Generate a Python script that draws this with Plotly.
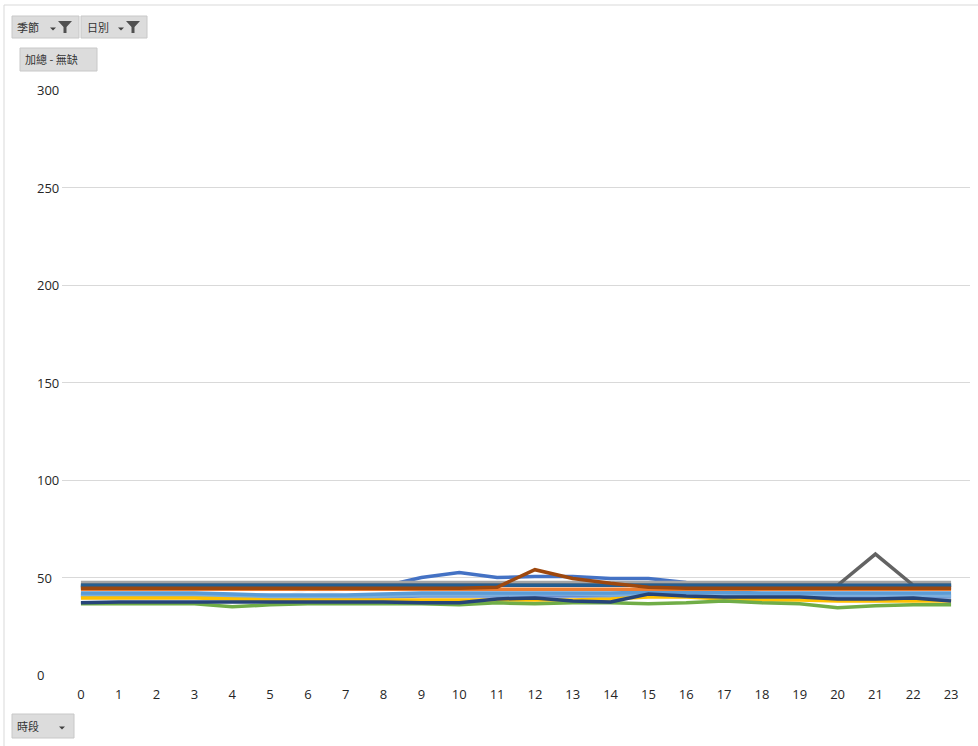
import plotly.graph_objects as go

# Hourly averages per group (時段 0-23)
hours = list(range(24))

s_gray = [47.5] * 24
s_dgray = [46, 46, 46, 46, 46, 46, 46, 46, 46, 46, 46, 46, 46, 46, 46, 46, 46, 46, 46, 46, 46, 62, 46, 46]
s_teal = [46] * 24
s_dgreen = [45.5, 45.5, 45.5, 45.5, 45.5, 45.5, 46, 45, 45, 46, 46.5, 46.5, 47, 47, 47, 47, 46.5, 46.5, 46.5, 46, 46, 46, 46, 46]
s_dorange = [44.5, 44.5, 44.5, 44.5, 44.5, 44.5, 44.5, 44.5, 44.5, 44.5, 44.5, 45, 54, 49.5, 47, 45, 44.5, 44.5, 44.5, 44.5, 44.5, 44.5, 44.5, 44.5]
s_orange = [44] * 24
s_blue = [45, 45, 45, 45, 45, 45, 45, 45, 45.5, 50, 52.5, 50, 50.5, 50.5, 49.5, 49.5, 47.5, 46.5, 46, 45.5, 45, 45, 45, 45]
s_white = [38.5, 38.5, 38, 38, 37.5, 37.5, 44, 41, 40, 40, 39, 38, 38, 41, 40, 39.5, 40, 43, 43.5, 43.5, 38, 37.5, 37.5, 38]
s_lblue = [42, 42, 42, 42, 41.5, 41, 41, 41, 41.5, 42, 42, 42, 42, 42, 42, 42.5, 42.5, 42.5, 42, 42, 42, 42, 42, 42]
s_lblue2 = [41, 41, 41, 41, 40.5, 40, 40, 40, 40.5, 41, 41, 41, 41.5, 41.5, 41, 41, 41, 41, 41, 41, 41, 41, 41, 40.5]
s_mblue = [40.5, 40.5, 40.5, 40.5, 40, 39.5, 39.5, 39.5, 40, 40.5, 40.5, 40.5, 40.5, 40.5, 40.5, 40.5, 41, 41, 41, 40.5, 40, 40, 40, 40]
s_gold = [39.5, 39.5, 39.5, 39.5, 39, 38.5, 38.5, 38.5, 38.5, 38.5, 38.5, 38.5, 38.5, 38.5, 39, 40, 40, 39, 38.5, 38.5, 38, 38, 38, 38]
s_dblue = [37, 37.5, 37.5, 37.5, 37.5, 37.5, 37.5, 37.5, 37.5, 37, 37, 39, 39.5, 38, 37.5, 41.5, 40.5, 40, 40, 40, 39, 39, 39.5, 38]
s_green = [36.5, 36.5, 36.5, 36.5, 35, 36, 36.5, 36.5, 36.5, 36.5, 36, 37, 36.5, 37, 37, 36.5, 37, 38, 37, 36.5, 34.5, 35.5, 36, 36]

# drawing order: first entries sit underneath
series = [
    ("s15", s_white, "#F4F7FB"),
    ("s1", s_mblue, "#698ED0"),
    ("s2", s_lblue2, "#7CAFDD"),
    ("s3", s_lblue, "#5B9BD5"),
    ("s4", s_gold, "#FFC000"),
    ("s5", s_green, "#70AD47"),
    ("s6", s_dblue, "#264478"),
    ("s7", s_orange, "#ED7D31"),
    ("s13", s_blue, "#4472C4"),
    ("s8", s_dgreen, "#43682B"),
    ("s9", s_gray, "#A5A5A5"),
    ("s10", s_dgray, "#636363"),
    ("s11", s_teal, "#255E91"),
    ("s12", s_dorange, "#9E480E"),
]

y_ticks = [0, 50, 100, 150, 200, 250, 300]

fig = go.Figure()
for name, vals, color in series:
    fig.add_trace(go.Scatter(
        x=hours, y=vals, mode="lines", name=name,
        line=dict(color=color, width=3.5), hoverinfo="skip",
    ))

W, H = 978, 746
L, R, T, B = 62, 8, 90, 71
PW, PH = W - L - R, H - T - B


def px(x):
    return (x - L) / PW


def py(y):
    return (H - B - y) / PH


shapes = []
annotations = []

# outer chart frame
shapes.append(dict(type="line", xref="paper", yref="paper", x0=px(4), x1=px(978), y0=py(5), y1=py(5),
                   line=dict(color="#D9D9D9", width=1)))
shapes.append(dict(type="line", xref="paper", yref="paper", x0=px(4), x1=px(4), y0=py(5), y1=py(746),
                   line=dict(color="#D9D9D9", width=1)))


def button(x0, y0, x1, y1, label, lx, dropdown=None, funnel=None):
    shapes.append(dict(type="rect", xref="paper", yref="paper", x0=px(x0), x1=px(x1), y0=py(y1), y1=py(y0),
                       fillcolor="#DCDCDC", line=dict(color="#C8C8C8", width=1), layer="above"))
    annotations.append(dict(xref="paper", yref="paper", x=px(lx), y=py((y0 + y1) / 2), text=label,
                            showarrow=False, xanchor="left", yanchor="middle",
                            font=dict(family="Noto Sans CJK TC", size=11, color="#333333")))
    if dropdown is not None:
        dx = dropdown
        cy = (y0 + y1) / 2 + 2
        shapes.append(dict(type="path", xref="paper", yref="paper",
                           path=f"M {px(dx - 3)},{py(cy - 1.5)} L {px(dx + 3)},{py(cy - 1.5)} L {px(dx)},{py(cy + 1.5)} Z",
                           fillcolor="#404040", line=dict(width=0), layer="above"))
    if funnel is not None:
        fx = funnel
        ty = y0 + 5
        shapes.append(dict(type="path", xref="paper", yref="paper",
                           path=(f"M {px(fx - 7)},{py(ty)} L {px(fx + 7)},{py(ty)} L {px(fx + 1.5)},{py(ty + 6)} "
                                 f"L {px(fx + 1.5)},{py(ty + 12)} L {px(fx - 1.5)},{py(ty + 12)} L {px(fx - 1.5)},{py(ty + 6)} Z"),
                           fillcolor="#505050", line=dict(width=0), layer="above"))


button(12, 16, 79, 38, "季節", 15, dropdown=53, funnel=65)
button(81, 16, 147, 38, "日別", 85, dropdown=121, funnel=133)
button(20, 48, 97, 71, "加總 - 無缺", 23)
button(12, 714, 74, 738, "時段", 15, dropdown=62)

# left-aligned value labels
for v in y_ticks:
    annotations.append(dict(xref="paper", yref="y", x=px(35), y=v, text=str(v), showarrow=False,
                            xanchor="left", yanchor="middle",
                            font=dict(family="Open Sans", size=13, color="#262626")))

fig.update_layout(
    width=W, height=H,
    margin=dict(l=L, r=R, t=T, b=B),
    paper_bgcolor="white", plot_bgcolor="white",
    showlegend=False,
    shapes=shapes, annotations=annotations,
    xaxis=dict(
        type="linear", range=[-0.5, 23.5], tickmode="array", tickvals=hours,
        ticktext=[str(h) for h in hours], showgrid=False, zeroline=False, showline=False,
        ticks="", ticklabelstandoff=10,
        tickfont=dict(family="Open Sans", size=13, color="#262626"),
    ),
    yaxis=dict(
        range=[0, 300], tickmode="array", tickvals=y_ticks, showticklabels=False,
        showgrid=True, gridcolor="#D9D9D9", gridwidth=1, zeroline=False, showline=False, ticks="",
    ),
)

fig.write_html("out.html")
